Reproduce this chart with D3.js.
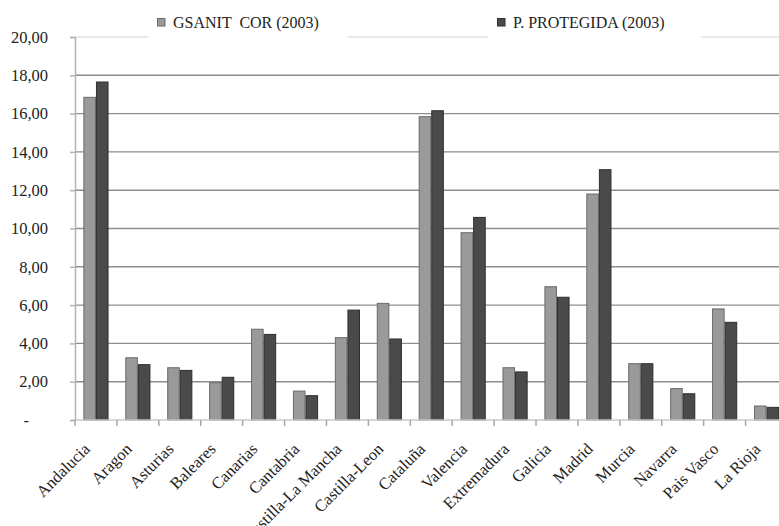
<!DOCTYPE html>
<html>
<head>
<meta charset="utf-8">
<script src="https://cdn.jsdelivr.net/npm/d3@7"></script>
<style>
  html, body { margin: 0; padding: 0; background: #fff; }
  svg { display: block; }
</style>
</head>
<body>
<svg id="chart" width="779" height="526"></svg>
<script>
// Regions (comunidades autónomas)
const regions = ["Andalucia", "Aragon", "Asturias", "Baleares", "Canarias", "Cantabria",
  "Castilla-La Mancha", "Castilla-Leon", "Cataluña", "Valencia", "Extremadura", "Galicia",
  "Madrid", "Murcia", "Navarra", "Pais Vasco", "La Rioja"];

// Series names
const seriesNames = ["GSANIT  COR (2003)", "P. PROTEGIDA (2003)"];

// Percent share per region, 2003
const gsanitCor = [16.85, 3.25, 2.73, 1.95, 4.74, 1.51, 4.30, 6.09, 15.84, 9.78, 2.73, 6.96, 11.80, 2.94, 1.64, 5.80, 0.73];
const pProtegida = [17.65, 2.89, 2.59, 2.23, 4.47, 1.27, 5.74, 4.23, 16.15, 10.58, 2.51, 6.41, 13.07, 2.94, 1.37, 5.10, 0.66];

// Y-axis ticks
const yTicks = [0, 2, 4, 6, 8, 10, 12, 14, 16, 18, 20];

const fills = ["#9a9a9a", "#4a4a4a"];
const edges = ["#6a6a6a", "#2e2e2e"];
const SERIF = "'Liberation Serif', 'Times New Roman', serif";

const svg = d3.select("#chart");
const mLeft = 75, mTop = 37, mBottom = 420, mRight = 787.5;

const x = d3.scaleBand().domain(regions).range([mLeft, mRight]).paddingInner(0.4).paddingOuter(0.2);
const x1 = d3.scaleBand().domain([0, 1]).range([0, x.bandwidth()]);
const y = d3.scaleLinear().domain([0, 20]).range([mBottom, mTop]);
const step = x.step();

// Horizontal gridlines
svg.append("g").selectAll("line")
  .data(yTicks.filter(d => d > 0))
  .join("line")
  .attr("x1", mLeft).attr("x2", 779)
  .attr("y1", d => y(d)).attr("y2", d => y(d))
  .attr("stroke", d => d === 20 ? "#e2e2e2" : "#8e8e8e")
  .attr("stroke-width", 1.4);

// Y axis
const fmt = d => d === 0 ? "-" : d3.format(".2f")(d).replace(".", ",");
const yAxis = svg.append("g")
  .attr("transform", `translate(${mLeft},0)`)
  .call(d3.axisLeft(y).tickValues(yTicks).tickSize(5).tickPadding(22).tickFormat(fmt));
yAxis.select(".domain").attr("stroke", "#b5b5b5").attr("stroke-width", 1.5);
yAxis.selectAll(".tick line").attr("stroke", "#b5b5b5").attr("stroke-width", 1.5);
yAxis.selectAll(".tick text")
  .style("font-family", SERIF).style("font-size", "16.5px").attr("fill", "#222");
yAxis.selectAll(".tick text").filter(d => d === 0).attr("dx", -19);

// Bars
const groups = svg.append("g").selectAll("g")
  .data(regions)
  .join("g")
  .attr("transform", d => `translate(${x(d)},0)`);

groups.selectAll("rect")
  .data((d, i) => [gsanitCor[i], pProtegida[i]])
  .join("rect")
  .attr("x", (d, j) => x1(j) + 0.5)
  .attr("width", x1.bandwidth() - 1)
  .attr("y", d => y(d))
  .attr("height", d => mBottom - y(d))
  .attr("fill", (d, j) => fills[j])
  .attr("stroke", (d, j) => edges[j])
  .attr("stroke-width", 1);

// X axis baseline with ticks between categories
const xAxis = svg.append("g");
xAxis.append("line")
  .attr("x1", mLeft).attr("x2", 779)
  .attr("y1", mBottom).attr("y2", mBottom)
  .attr("stroke", "#c8c8c8").attr("stroke-width", 1.5);
xAxis.selectAll("line.tk")
  .data(regions)
  .join("line")
  .attr("class", "tk")
  .attr("x1", d => x(d) - (step - x.bandwidth()) / 2)
  .attr("x2", d => x(d) - (step - x.bandwidth()) / 2)
  .attr("y1", mBottom).attr("y2", mBottom + 6)
  .attr("stroke", "#a8a8a8").attr("stroke-width", 1.5);

// Rotated category labels
xAxis.selectAll("text")
  .data(regions)
  .join("text")
  .attr("transform", d => `translate(${x(d) + x.bandwidth() / 2 - 5},${mBottom + 30}) rotate(-45)`)
  .attr("text-anchor", "end")
  .style("font-family", SERIF)
  .style("font-size", "16.5px")
  .attr("fill", "#222")
  .text(d => d);

// Legend
const legendItems = [
  { name: seriesNames[0], x: 148, w: 200 },
  { name: seriesNames[1], x: 488, w: 213 }
];
const lg = svg.append("g").selectAll("g")
  .data(legendItems)
  .join("g")
  .attr("transform", d => `translate(${d.x},0)`);
lg.append("rect")
  .attr("x", 0).attr("y", 29).attr("width", d => d.w).attr("height", 16)
  .attr("fill", "#fff");
lg.append("rect")
  .attr("x", 9.5).attr("y", 18.5).attr("width", 7.5).attr("height", 7.5)
  .attr("fill", (d, i) => fills[i]).attr("stroke", (d, i) => edges[i]).attr("stroke-width", 1);
lg.append("text")
  .attr("x", 25).attr("y", 28)
  .style("font-family", SERIF)
  .style("font-size", "16px")
  .style("white-space", "pre")
  .attr("fill", "#222")
  .text(d => d.name);
</script>
</body>
</html>
